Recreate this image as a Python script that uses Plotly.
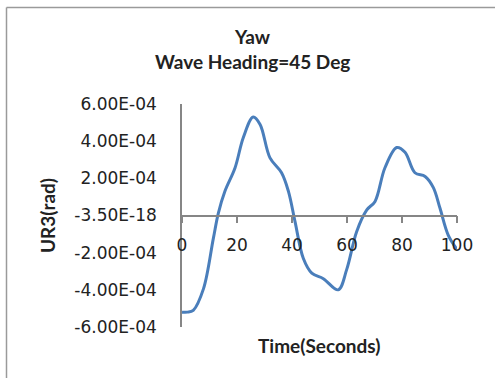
import plotly.graph_objects as go

time_s = [0, 2, 4.1, 7.8, 11.4, 13.2, 15.6, 19.3, 22.3, 25.9, 28.4, 32, 36.2, 38.7, 41.1,
          44.1, 47.2, 51.4, 56.8, 59.9, 63.5, 67.2, 70.2, 73.8, 78.1, 81.1, 84.7, 88.4,
          91.4, 93.8, 96.8, 99.9]
ur3 = [-5.2e-4, -5.2e-4, -5.1e-4, -3.95e-4, -1.23e-4, 0.12e-4, 1.3e-4, 2.57e-4, 4.2e-4, 5.3e-4,
       4.9e-4, 3.1e-4, 2.3e-4, 1.3e-4, -0.33e-4, -2.3e-4, -3.1e-4, -3.4e-4, -4.0e-4, -2.9e-4,
       -0.87e-4, 0.3e-4, 0.76e-4, 2.57e-4, 3.66e-4, 3.4e-4, 2.3e-4, 2.1e-4, 1.5e-4, 0.4e-4,
       -1.05e-4, -1.8e-4]

y_tickvals = [6e-4, 4e-4, 2e-4, 0, -2e-4, -4e-4, -6e-4]
y_ticktext = ["6.00E-04", "4.00E-04", "2.00E-04", "-3.50E-18", "-2.00E-04", "-4.00E-04", "-6.00E-04"]
x_tickvals = [0, 20, 40, 60, 80, 100]

W, H = 495, 378
L, R, T, B = 182, 457, 104, 327

def px(x):
    return (x - L) / (R - L)

def py(y):
    return (B - y) / (B - T)

fig = go.Figure()
fig.add_trace(go.Scatter(x=time_s, y=ur3, mode="lines",
                         line=dict(color="#4a7ebb", width=3, shape="spline", smoothing=1)))

tick_font = dict(family="DejaVu Sans", size=17, color="#222")
fig.update_layout(
    width=W, height=H,
    margin=dict(l=L, r=W - R, t=T, b=H - B),
    paper_bgcolor="white", plot_bgcolor="white",
    showlegend=False,
    xaxis=dict(range=[0, 100], tickvals=x_tickvals, anchor="free", position=0.5,
               showline=True, linecolor="#868686", linewidth=1.5,
               ticks="outside", ticklen=7, tickcolor="#868686", tickwidth=1.5,
               showgrid=False, zeroline=False, tickfont=tick_font, ticklabelstandoff=7),
    yaxis=dict(range=[-6e-4, 6e-4], tickvals=y_tickvals, ticktext=y_ticktext,
               showline=True, linecolor="#868686", linewidth=1.5, ticks="",
               showgrid=False, zeroline=False, tickfont=tick_font, ticklabelstandoff=20),
)

title_font = dict(family="Lato", size=19, color="#222")
for txt, x, y, ang in [("<b>Yaw</b>", 252, 36, 0),
                       ("<b>Wave Heading=45 Deg</b>", 252, 62, 0),
                       ("<b>Time(Seconds)</b>", 319, 345, 0),
                       ("<b>UR3(rad)</b>", 47, 216, -90)]:
    fig.add_annotation(text=txt, x=px(x), y=py(y), xref="paper", yref="paper",
                       xanchor="center", yanchor="middle", showarrow=False,
                       textangle=ang, font=title_font)

border = dict(color="#9a9a9a", width=1.5)
fig.add_shape(type="line", xref="paper", yref="paper", x0=px(6.5), x1=px(W), y0=py(7.5), y1=py(7.5), line=border)
fig.add_shape(type="line", xref="paper", yref="paper", x0=px(6.5), x1=px(6.5), y0=py(7.5), y1=py(H), line=border)

fig.write_html("out.html")
